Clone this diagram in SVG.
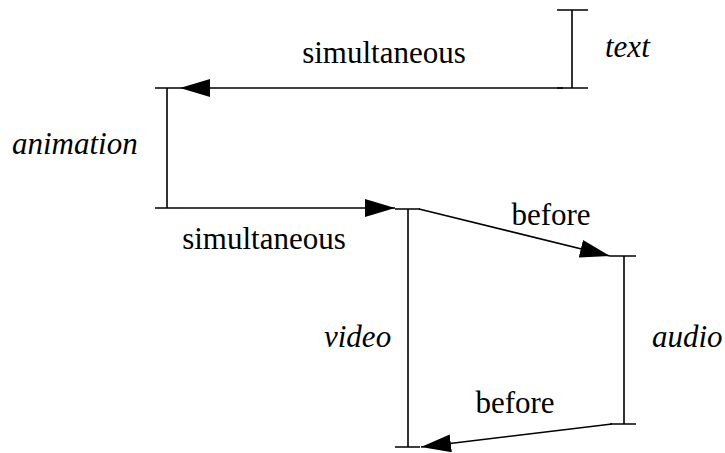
<svg xmlns="http://www.w3.org/2000/svg" width="725" height="453" viewBox="0 0 725 453">
  <defs>
    <marker id="arrow" markerWidth="30" markerHeight="18" refX="30" refY="9" orient="auto" markerUnits="userSpaceOnUse">
      <path d="M0,0 L30,9 L0,18 Z" fill="#000"/>
    </marker>
  </defs>
  <style>
    .bar { stroke: #000; stroke-width: 1.6; fill: none; }
    .conn { stroke: #000; stroke-width: 1.6; fill: none; marker-end: url(#arrow); }
    .lbl { font-family: 'Liberation Serif', 'Times New Roman', serif; font-size: 31px; fill: #000; }
    .name { font-style: italic; }
  </style>

  <!-- timeline bars, one per media object -->
  <g id="text">
    <path class="bar" d="M557,10 H588 M572,10 V88 M557,88 H588"/>
    <text class="lbl name" x="605" y="57">text</text>
  </g>
  <g id="animation">
    <path class="bar" d="M155,88 H180 M167,88 V208 M155,208 H180"/>
    <text class="lbl name" x="12" y="154">animation</text>
  </g>
  <g id="video">
    <path class="bar" d="M395,209 H420 M408,209 V447 M395,447 H420"/>
    <text class="lbl name" x="324" y="347">video</text>
  </g>
  <g id="audio">
    <path class="bar" d="M610,256 H636 M624,256 V424 M610,424 H636"/>
    <text class="lbl name" x="652" y="347">audio</text>
  </g>

  <!-- temporal relations -->
  <g id="connectors">
    <line class="conn" x1="563" y1="88" x2="180" y2="88"/>
    <line class="conn" x1="180" y1="208" x2="395" y2="208"/>
    <line class="conn" x1="419" y1="209" x2="610" y2="256"/>
    <line class="conn" x1="612" y1="424" x2="421" y2="447"/>
    <text class="lbl" x="384" y="63" text-anchor="middle">simultaneous</text>
    <text class="lbl" x="264" y="249" text-anchor="middle">simultaneous</text>
    <text class="lbl" x="551" y="225" text-anchor="middle">before</text>
    <text class="lbl" x="515" y="413" text-anchor="middle">before</text>
  </g>
</svg>
